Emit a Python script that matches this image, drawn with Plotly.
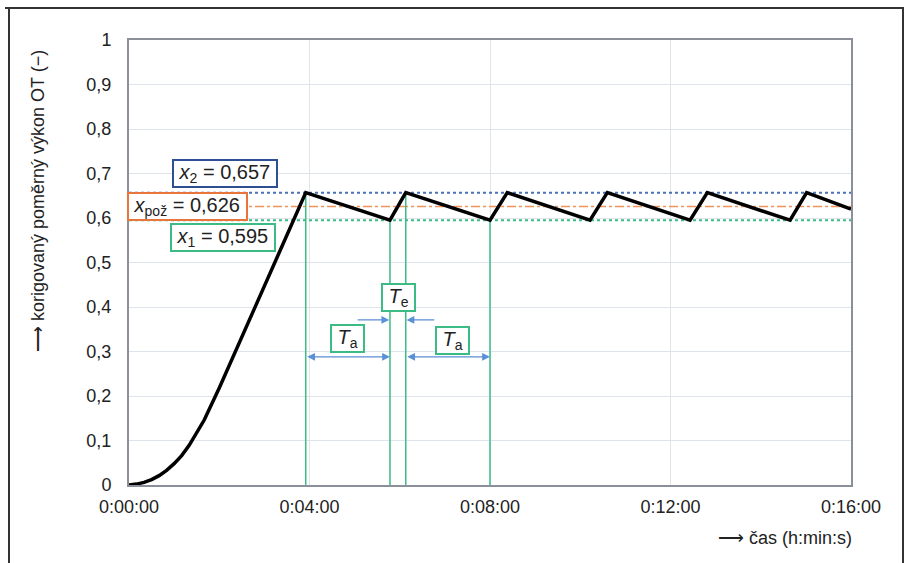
import plotly.graph_objects as go

# ---- data (seconds, relative power) ----
t_ramp = [0, 10, 20, 30, 40, 50, 60, 70, 80, 90, 100, 120, 140, 160, 180, 200, 220, 235]
v_ramp = [0.0, 0.002, 0.006, 0.012, 0.021, 0.033, 0.048, 0.066, 0.089, 0.116, 0.146, 0.218, 0.295, 0.372, 0.449, 0.525, 0.600, 0.657]
t_cycle = [347, 368, 480, 503, 613, 636, 746, 769, 879, 901, 960]
v_cycle = [0.595, 0.657, 0.595, 0.657, 0.595, 0.657, 0.595, 0.657, 0.595, 0.657, 0.62]
t = t_ramp + t_cycle
v = v_ramp + v_cycle

x2 = 0.657
xpoz = 0.626
x1 = 0.595

marker_t = [235, 347, 368, 480]        # green vertical markers
marker_v = [0.657, 0.595, 0.657, 0.595]

xtick_vals = [0, 240, 480, 720, 960]
xtick_text = ["0:00:00", "0:04:00", "0:08:00", "0:12:00", "0:16:00"]
ytick_vals = [0, 0.1, 0.2, 0.3, 0.4, 0.5, 0.6, 0.7, 0.8, 0.9, 1]
ytick_text = ["0", "0,1", "0,2", "0,3", "0,4", "0,5", "0,6", "0,7", "0,8", "0,9", "1"]

GREEN = "#3dbb84"
BLUE = "#4a72b8"
ORANGE = "#f0955a"
ARROW = "#5b8fd6"
FONT = "Liberation Sans"

fig = go.Figure()

# threshold lines
fig.add_trace(go.Scatter(x=[0, 960], y=[x2, x2], mode="lines",
                         line=dict(color=BLUE, width=2, dash="dot"), hoverinfo="skip"))
fig.add_trace(go.Scatter(x=[0, 960], y=[xpoz, xpoz], mode="lines",
                         line=dict(color=ORANGE, width=1.5, dash="dashdot"), hoverinfo="skip"))
fig.add_trace(go.Scatter(x=[0, 960], y=[x1, x1], mode="lines",
                         line=dict(color=GREEN, width=2, dash="dot"), hoverinfo="skip"))

# green markers
for mt, mv in zip(marker_t, marker_v):
    fig.add_trace(go.Scatter(x=[mt, mt], y=[0, mv], mode="lines",
                             line=dict(color=GREEN, width=1.5), hoverinfo="skip"))

# main curve
fig.add_trace(go.Scatter(x=t, y=v, mode="lines",
                         line=dict(color="black", width=3.5), hoverinfo="skip"))

ann = []
def box(x, y, text, color):
    ann.append(dict(x=x, y=y, xref="x", yref="y", text=text, showarrow=False,
                    font=dict(family=FONT, size=20, color="#222"),
                    bgcolor="white", bordercolor=color, borderwidth=2, borderpad=0))

box(127, 0.700, "&nbsp;<i>x</i><sub>2</sub> = 0,657&nbsp;", "#2f4f93")
box(78, 0.626, "&nbsp;<i>x</i><sub>pož</sub> = 0,626&nbsp;", "#e8763c")
box(125, 0.556, "&nbsp;<i>x</i><sub>1</sub> = 0,595&nbsp;", GREEN)
box(290, 0.330, "&nbsp;<i>T</i><sub>a</sub>&nbsp;", GREEN)
box(430, 0.325, "&nbsp;<i>T</i><sub>a</sub>&nbsp;", GREEN)
box(358, 0.421, "&nbsp;<i>T</i><sub>e</sub>&nbsp;", GREEN)

# Ta arrows (double-headed)
for a, b in [(235, 347), (368, 480)]:
    ann.append(dict(x=b, y=0.288, ax=a, ay=0.288, xref="x", yref="y", axref="x", ayref="y",
                    showarrow=True, arrowhead=2, arrowside="end+start", arrowsize=1.2,
                    arrowwidth=1.3, arrowcolor=ARROW, text=""))
# Te arrows
ann.append(dict(x=346, y=0.371, ax=302, ay=0.371, xref="x", yref="y", axref="x", ayref="y",
                showarrow=True, arrowhead=2, arrowsize=1.2, arrowwidth=1.3, arrowcolor=ARROW, text=""))
ann.append(dict(x=369, y=0.371, ax=408, ay=0.371, xref="x", yref="y", axref="x", ayref="y",
                showarrow=True, arrowhead=2, arrowsize=1.2, arrowwidth=1.3, arrowcolor=ARROW, text=""))

# axis titles
ann.append(dict(x=(854 - 129) / 722, y=(485 - 538) / 445, xref="paper", yref="paper",
                xanchor="right", yanchor="middle", showarrow=False,
                text="⟶ čas (h:min:s)", font=dict(family=FONT, size=18, color="#222")))
ann.append(dict(x=(38 - 129) / 722, y=(485 - 201) / 445, xref="paper", yref="paper",
                xanchor="center", yanchor="middle", showarrow=False, textangle=-90,
                text="⟶ korigovaný poměrný výkon OT (−)", font=dict(family=FONT, size=18, color="#222")))

def px(xp):
    return (xp - 129) / 722
def py(yp):
    return (485 - yp) / 445

shapes = [
    dict(type="line", xref="paper", yref="paper", x0=px(5), x1=px(904), y0=py(8), y1=py(8),
         line=dict(color="#333", width=2)),
    dict(type="line", xref="paper", yref="paper", x0=px(9), x1=px(9), y0=py(8), y1=py(563),
         line=dict(color="#333", width=2)),
    dict(type="line", xref="paper", yref="paper", x0=px(903), x1=px(903), y0=py(8), y1=py(563),
         line=dict(color="#333", width=2)),
]

fig.update_layout(
    width=906, height=563,
    margin=dict(l=129, r=55, t=40, b=78),
    paper_bgcolor="white", plot_bgcolor="white",
    showlegend=False,
    annotations=ann, shapes=shapes,
    font=dict(family=FONT, size=18, color="#222"),
    xaxis=dict(range=[0, 960], tickvals=xtick_vals, ticktext=xtick_text,
               showgrid=True, gridcolor="#dfe4ea", gridwidth=1,
               showline=True, linecolor="#8a8f99", linewidth=2, mirror=True,
               zeroline=False, ticks="", ticklabelstandoff=4,
               tickfont=dict(family=FONT, size=18, color="#222")),
    yaxis=dict(range=[0, 1], tickvals=ytick_vals, ticktext=ytick_text,
               showgrid=True, gridcolor="#dfe4ea", gridwidth=1,
               showline=True, linecolor="#8a8f99", linewidth=2, mirror=True,
               zeroline=False, ticks="", ticklabelstandoff=12,
               tickfont=dict(family=FONT, size=18, color="#222")),
)

fig.write_html("out.html", config={"displayModeBar": False},
               post_script="document.body.style.margin='0px';")
